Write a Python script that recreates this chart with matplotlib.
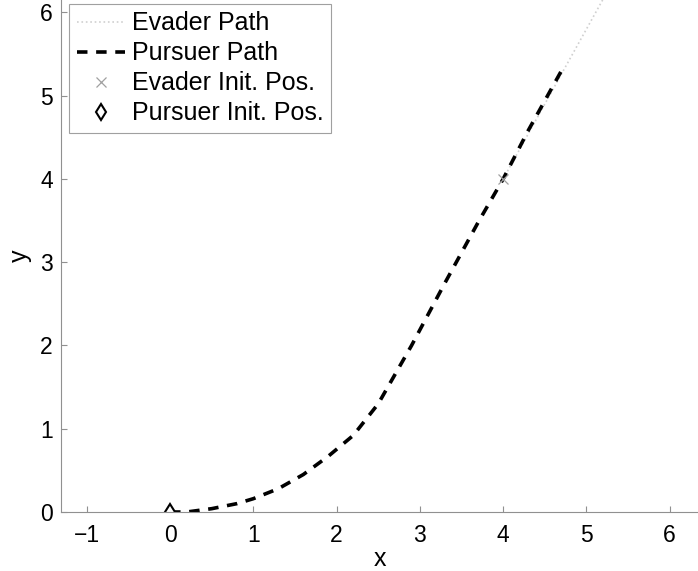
import matplotlib.pyplot as plt

plt.rcParams['font.family'] = ['Liberation Sans', 'DejaVu Sans']

# pursuer trajectory
pursuer_x = [0, 0.2, 0.5, 0.8, 1.0, 1.3, 1.6, 1.9, 2.2, 2.5, 2.9, 3.3, 3.7, 4.0, 4.3, 4.7]
pursuer_y = [0, 0.0, 0.04, 0.1, 0.16, 0.28, 0.45, 0.67, 0.92, 1.3, 2.0, 2.75, 3.48, 4.0, 4.58, 5.3]

# evader moves on a straight line
evader_x = [4.0, 5.25]
evader_y = [4.0, 6.25]

evader_init = (4.0, 4.0)
pursuer_init = (0.0, 0.0)

fig = plt.figure(figsize=(6.98, 5.71), dpi=100)
ax = fig.add_axes([61/698, 59/571, 637/698, 512/571])

ax.plot(evader_x, evader_y, linestyle=':', color='#d0d0d0', lw=1.2, label='Evader Path')
ax.plot(pursuer_x, pursuer_y, linestyle=(0, (2.9, 2.4)), color='black', lw=2.6,
        label='Pursuer Path')
ax.plot(*evader_init, marker='x', color='#a0a0a0', ms=7, mew=0.9, linestyle='none',
        label='Evader Init. Pos.')
ax.plot(*pursuer_init, marker='d', mfc='white', mec='black', ms=8.5, mew=1.5,
        linestyle='none', label='Pursuer Init. Pos.')

ax.set_xlim(-1.31, 6.34)
ax.set_ylim(0, 6.15)
ax.set_xticks(range(-1, 7))
ax.set_yticks(range(0, 7))

for s in ['top', 'right']:
    ax.spines[s].set_visible(False)
for s in ['left', 'bottom']:
    ax.spines[s].set_color('#909090')
    ax.spines[s].set_linewidth(0.8)
ax.tick_params(direction='in', length=4, color='#909090', labelsize=16.5)
ax.tick_params(axis='x', pad=9)
ax.tick_params(axis='y', pad=6)

ax.set_xlabel('x', fontsize=18, labelpad=0)
ax.set_ylabel('y', fontsize=18, labelpad=6)

leg = ax.legend(loc='upper left', bbox_to_anchor=(69/698, 1 - 4/571),
                bbox_transform=fig.transFigure, borderaxespad=0, fontsize=18,
                handlelength=1.95, handletextpad=0.25, labelspacing=0.24,
                borderpad=0.3, fancybox=False, framealpha=1)
leg.get_frame().set_edgecolor('#a0a0a0')
leg.get_frame().set_linewidth(0.8)

fig.savefig('out.png', dpi=100)
